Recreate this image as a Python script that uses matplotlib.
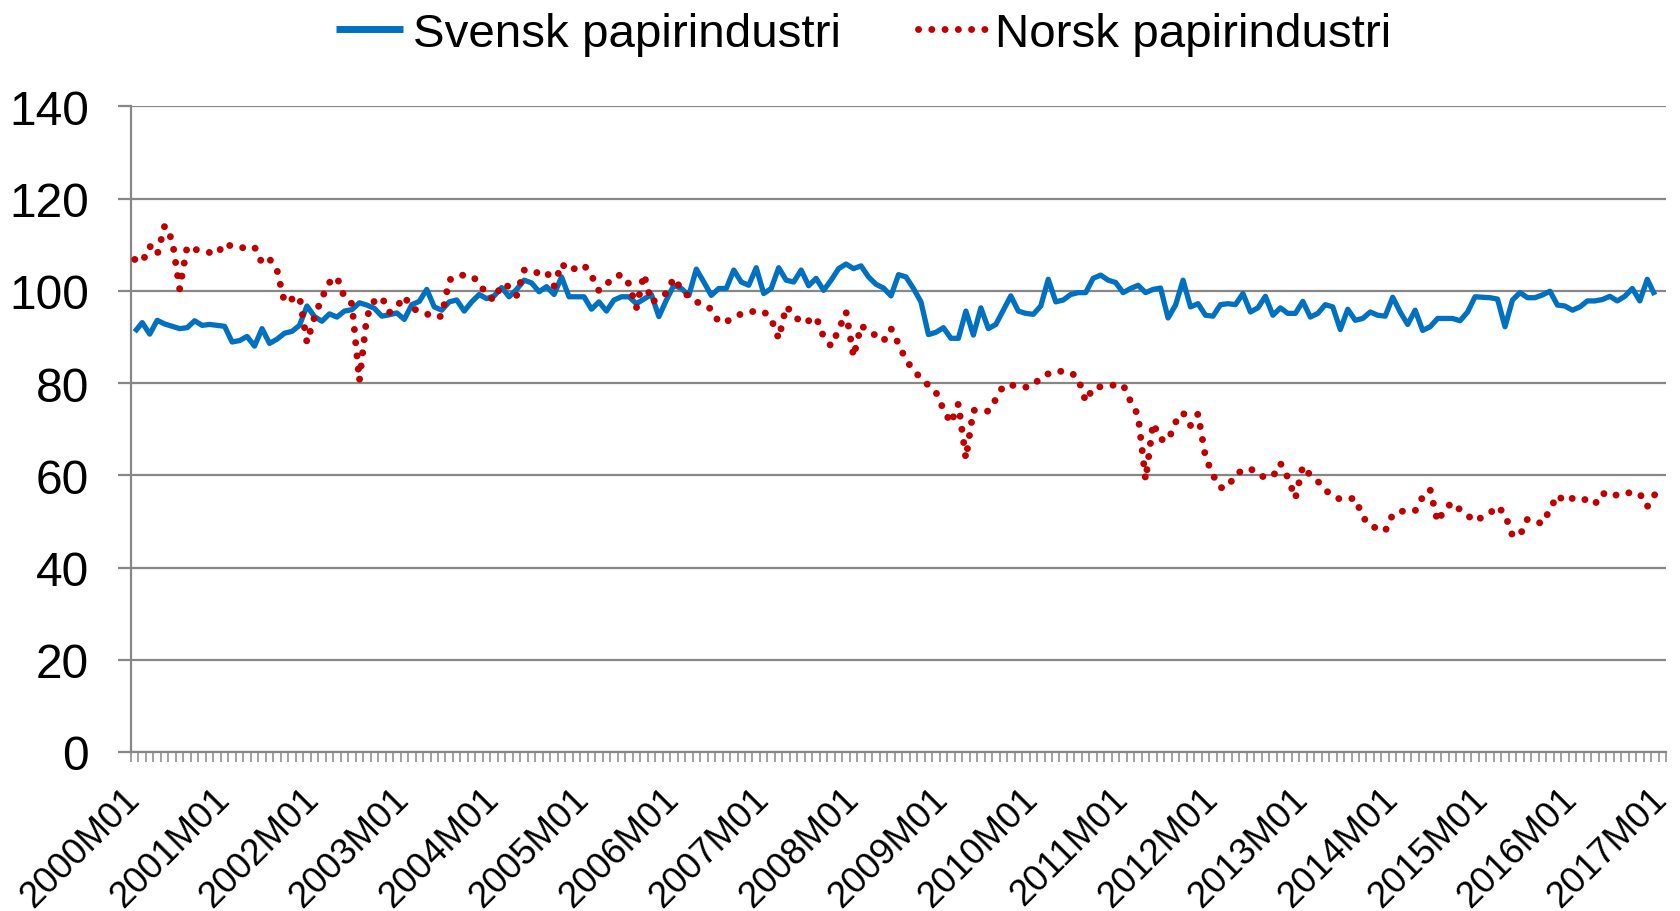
import matplotlib
matplotlib.use("Agg")
import matplotlib.pyplot as plt
import matplotlib.transforms as mtransforms
import numpy as np

plt.rcParams['font.family'] = ['Liberation Sans', 'DejaVu Sans']

# Monthly categories 2000M01 .. 2017M01 (last category has no value)
years = list(range(2000, 2018))
categories = [f"{y}M{m:02d}" for y in years for m in range(1, 13)][:205]
tick_labels = ["2000M01", "2001M01", "2002M01", "2003M01", "2004M01", "2005M01",
               "2006M01", "2007M01", "2008M01", "2009M01", "2010M01", "2011M01",
               "2012M01", "2013M01", "2014M01", "2015M01", "2016M01", "2017M01"]

svensk = [
    91.1, 93.1, 90.6, 93.6, 92.8, 92.3, 91.8, 92.0, 93.5, 92.5, 92.7, 92.5,
    92.3, 88.9, 89.2, 90.1, 88.0, 91.8, 88.6, 89.5, 90.8, 91.2, 92.5, 96.7,
    94.4, 93.4, 95.0, 94.3, 95.6, 95.9, 97.4, 96.9, 96.2, 94.5, 94.8, 95.2,
    93.8, 97.0, 97.7, 100.3, 96.5, 95.8, 97.6, 98.0, 95.6, 97.6, 99.2, 98.3,
    98.9, 100.7, 98.7, 100.3, 102.3, 101.7, 99.8, 100.9, 99.2, 103.0, 98.7, 98.7,
    98.7, 96.0, 97.6, 95.6, 98.0, 98.7, 98.7, 97.2, 98.2, 99.2, 94.4, 98.0,
    101.2, 100.5, 99.0, 104.7, 101.9, 99.0, 100.5, 100.5, 104.5, 101.9, 101.2, 105.0,
    99.4, 100.5, 105.0, 102.3, 101.9, 104.5, 101.1, 102.7, 100.1, 102.3, 104.8, 105.8,
    104.8, 105.4, 103.0, 101.4, 100.6, 98.9, 103.5, 103.0, 100.5, 97.6, 90.5, 91.0,
    92.0, 89.7, 89.7, 95.6, 90.4, 96.3, 91.8, 92.7, 95.8, 98.9, 95.6, 95.1,
    94.9, 96.7, 102.5, 97.6, 98.0, 99.2, 99.6, 99.6, 102.7, 103.4, 102.3, 101.8,
    99.6, 100.5, 101.2, 99.6, 100.3, 100.6, 94.1, 96.9, 102.3, 96.5, 97.2, 94.7,
    94.5, 97.0, 97.2, 97.0, 99.4, 95.4, 96.3, 98.8, 94.7, 96.3, 95.1, 95.1,
    97.7, 94.3, 95.1, 97.0, 96.5, 91.6, 96.0, 93.6, 94.0, 95.4, 94.7, 94.5,
    98.6, 95.4, 92.7, 95.8, 91.4, 92.2, 94.0, 94.0, 94.0, 93.5, 95.4, 98.7,
    98.6, 98.5, 98.2, 92.2, 98.0, 99.6, 98.5, 98.5, 99.1, 99.9, 96.9, 96.7,
    95.8, 96.5, 97.8, 97.8, 98.1, 98.8, 97.8, 98.8, 100.5, 97.8, 102.5, 99.1,
]

norsk = [
    106.8, 106.2, 109.7, 107.8, 114.1, 111.0, 100.4, 109.6, 109.0, 108.6, 108.3, 108.0,
    110.3, 109.6, 109.3, 109.4, 109.5, 106.0, 106.9, 104.5, 97.5, 98.2, 98.8, 88.8,
    94.3, 98.5, 101.8, 103.0, 98.6, 97.2, 80.5, 94.4, 97.8, 98.6, 95.3, 96.5,
    98.8, 96.2, 95.6, 95.0, 94.2, 94.5, 102.3, 103.3, 103.4, 103.2, 101.8, 99.0,
    98.0, 101.4, 100.9, 99.0, 104.5, 103.8, 104.0, 104.2, 101.0, 105.9, 104.3, 105.0,
    105.6, 103.3, 100.0, 101.4, 103.0, 103.5, 101.5, 96.3, 103.6, 97.5, 98.3, 99.5,
    102.8, 100.3, 98.7, 97.6, 97.0, 96.0, 93.2, 93.3, 94.2, 95.0, 95.5, 95.5,
    95.5, 93.9, 89.6, 96.6, 94.9, 93.0, 93.5, 94.3, 90.0, 88.0, 91.5, 95.4,
    85.7, 92.5, 91.2, 90.3, 89.1, 91.8, 88.5, 85.0, 82.8, 81.0, 79.5, 78.0,
    74.3, 71.3, 75.5, 63.6, 74.1, 74.0, 73.9, 76.5, 79.4, 79.5, 79.5, 79.1,
    79.5, 81.2, 82.0, 82.6, 82.5, 82.3, 81.0, 76.0, 79.0, 79.2, 79.4, 79.6,
    79.6, 76.0, 73.0, 59.0, 71.3, 67.8, 67.5, 71.5, 73.6, 70.8, 73.3, 64.0,
    60.0, 57.3, 57.4, 60.3, 61.0, 61.5, 60.0, 59.6, 59.7, 62.6, 59.5, 55.0,
    62.0, 60.0, 58.7, 56.8, 55.5, 54.8, 54.9, 55.0, 51.0, 49.0, 48.5, 47.9,
    51.5, 52.2, 52.2, 52.3, 55.3, 56.9, 49.9, 52.8, 54.1, 52.5, 51.3, 50.0,
    51.0, 51.8, 53.3, 51.5, 46.9, 47.0, 50.5, 50.0, 49.5, 52.6, 55.7, 54.3,
    55.0, 55.2, 54.5, 53.7, 56.2, 55.3, 55.8, 56.3, 56.1, 56.0, 53.2, 55.8,
]

series_names = ["Svensk papirindustri", "Norsk papirindustri"]
y_ticks = [0, 20, 40, 60, 80, 100, 120, 140]

BLUE = "#0070C0"
RED = "#C00000"
GRAY = "#878787"

fig = plt.figure(figsize=(16.8, 9.12), dpi=100)
W, H = 1680, 912
ax = fig.add_axes([131 / W, 159 / H, (1666 - 131) / W, (753 - 107.3) / H])

x_s = np.arange(len(svensk))
x_n = np.arange(len(norsk))
ax.plot(x_s, svensk, color=BLUE, linewidth=3.8, solid_joinstyle='round',
        solid_capstyle='butt', label=series_names[0], zorder=3)
ax.plot(x_n, norsk, color=RED, linewidth=5.0, linestyle=(0, (0.01, 1.9)),
        dash_capstyle='round', label=series_names[1], zorder=4)

ax.set_xlim(-0.5, len(categories) - 0.5)
ax.set_ylim(0, 140)
ax.set_yticks(y_ticks)
ax.set_yticklabels([str(v) for v in y_ticks], fontsize=34.5)
ax.yaxis.grid(True, color=GRAY, linewidth=1.6)
ax.set_axisbelow(True)

for side in ('top', 'right'):
    ax.spines[side].set_visible(False)
for side in ('left', 'bottom'):
    ax.spines[side].set_color(GRAY)
    ax.spines[side].set_linewidth(1.6)

ax.tick_params(axis='y', which='major', length=9.4, width=1.6, color=GRAY,
               pad=21, labelcolor='black')

major_pos = [categories.index(lbl) for lbl in tick_labels]
ax.set_xticks(major_pos)
ax.set_xticklabels(tick_labels, fontsize=26.5)
ax.set_xticks(np.arange(-0.5, len(categories), 1.0), minor=True)
ax.tick_params(axis='x', which='minor', length=7.5, width=1.1, color=GRAY)
ax.tick_params(axis='x', which='major', length=0, pad=21)
shift = mtransforms.ScaledTranslation(-13 / 100, 0, fig.dpi_scale_trans)
for lbl in ax.get_xticklabels():
    lbl.set_rotation(45)
    lbl.set_ha('right')
    lbl.set_va('top')
    lbl.set_rotation_mode('anchor')
    lbl.set_transform(lbl.get_transform() + shift)

leg = fig.legend(loc='center', bbox_to_anchor=(864 / W, 1 - 35 / H), ncol=2,
                 frameon=False, fontsize=34.2, handlelength=1.4,
                 handletextpad=0.22, columnspacing=1.62, borderaxespad=0)
leg.get_lines()[0].set_linewidth(5.0)

fig.savefig("out.png", dpi=100)
